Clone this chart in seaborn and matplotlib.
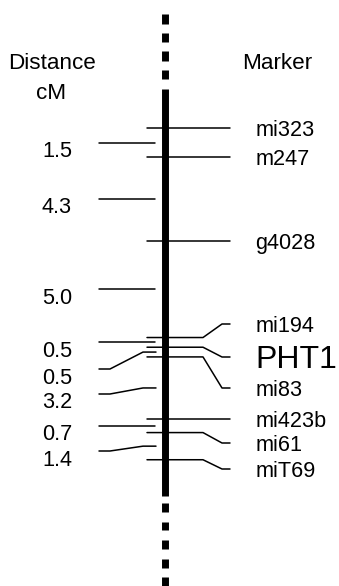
import numpy as np
import pandas as pd
import matplotlib
matplotlib.use("Agg")
import matplotlib.pyplot as plt
import seaborn as sns

# genetic map data
markers = ["mi323", "m247", "g4028", "mi194", "PHT1", "mi83", "mi423b", "mi61", "miT69"]
intervals_cm = [1.5, 4.3, 5.0, 0.5, 0.5, 3.2, 0.7, 1.4]   # distance between neighbours
interval_labels = ["1.5", "4.3", "5.0", "0.5", "0.5", "3.2", "0.7", "1.4"]

marker_cm = np.concatenate([[0.0], np.cumsum(intervals_cm)])
interval_mid = (marker_cm[:-1] + marker_cm[1:]) / 2

# layout (pixels of the 339x586 figure, y mapped onto cM)
PX_CM = 19.4
Y0 = 128.0
def cm(px):
    return (px - Y0) / PX_CM

# where a label is pushed off its line (pixel y), None = stays on the line
marker_label_px = [None, None, None, 324, 357, 388, None, 443, 469]
interval_label_px = [None, None, None, None, 369, 394, None, 451]

sns.set_style("white")
plt.rcParams["font.family"] = ["Liberation Sans", "DejaVu Sans"]
plt.rcParams["text.color"] = "black"

fig = plt.figure(figsize=(3.39, 5.86), dpi=100)
ax = fig.add_axes([0, 0, 1, 1])

rows = []
# marker lines to the right of the chromosome
for i, (name, y) in enumerate(zip(markers, marker_cm)):
    lp = marker_label_px[i]
    if lp is None:
        pts = [(147, y), (230, y)]
    else:
        pts = [(147, y), (203, y), (222, cm(lp)), (230, cm(lp))]
    for x, yy in pts:
        rows.append(("m%d" % i, x, yy))
# interval lines to the left
for i, y in enumerate(interval_mid):
    lp = interval_label_px[i]
    if lp is None:
        pts = [(99, y), (155, y)]
    else:
        pts = [(99, cm(lp)), (110, cm(lp)), (143, y), (156, y)]
    for x, yy in pts:
        rows.append(("d%d" % i, x, yy))
segs = pd.DataFrame(rows, columns=["seg", "x", "y"])

sns.lineplot(data=segs, x="x", y="y", units="seg", estimator=None, sort=False,
             color="black", linewidth=1.1, ax=ax, legend=False)

# chromosome: solid part plus dashed ends
cx = 164.5
ax.plot([cx, cx], [cm(89), cm(496)], color="black", lw=5.0, solid_capstyle="butt")
for s in np.arange(14, 80, 18.6):
    ax.plot([cx, cx], [cm(s), cm(s + 9.5)], color="black", lw=5.0, solid_capstyle="butt")
for s in np.arange(503, 586, 18.6):
    ax.plot([cx, cx], [cm(s), cm(s + 8.8)], color="black", lw=5.0, solid_capstyle="butt")

fs = 15.6
for i, name in enumerate(markers):
    lp = marker_label_px[i]
    y = marker_cm[i] if lp is None else cm(lp)
    ax.text(255.5, y, name, fontsize=23 if name == "PHT1" else fs,
            ha="left", va="center_baseline", color="black")

for i, lab in enumerate(interval_labels):
    lp = interval_label_px[i]
    y = interval_mid[i] if lp is None else cm(lp)
    ax.text(57, y + 6.5 / PX_CM, lab, fontsize=fs, ha="center", va="center_baseline",
            color="black")

ax.text(52, cm(61), "Distance", fontsize=16.2, ha="center", va="center_baseline", color="black")
ax.text(51, cm(91), "cM", fontsize=16.2, ha="center", va="center_baseline", color="black")
ax.text(277, cm(61), "Marker", fontsize=16.2, ha="center", va="center_baseline", color="black")

ax.set_xlim(0, 339)
ax.set_ylim(cm(586), cm(0))
ax.axis("off")

fig.savefig("out.png", dpi=100)
